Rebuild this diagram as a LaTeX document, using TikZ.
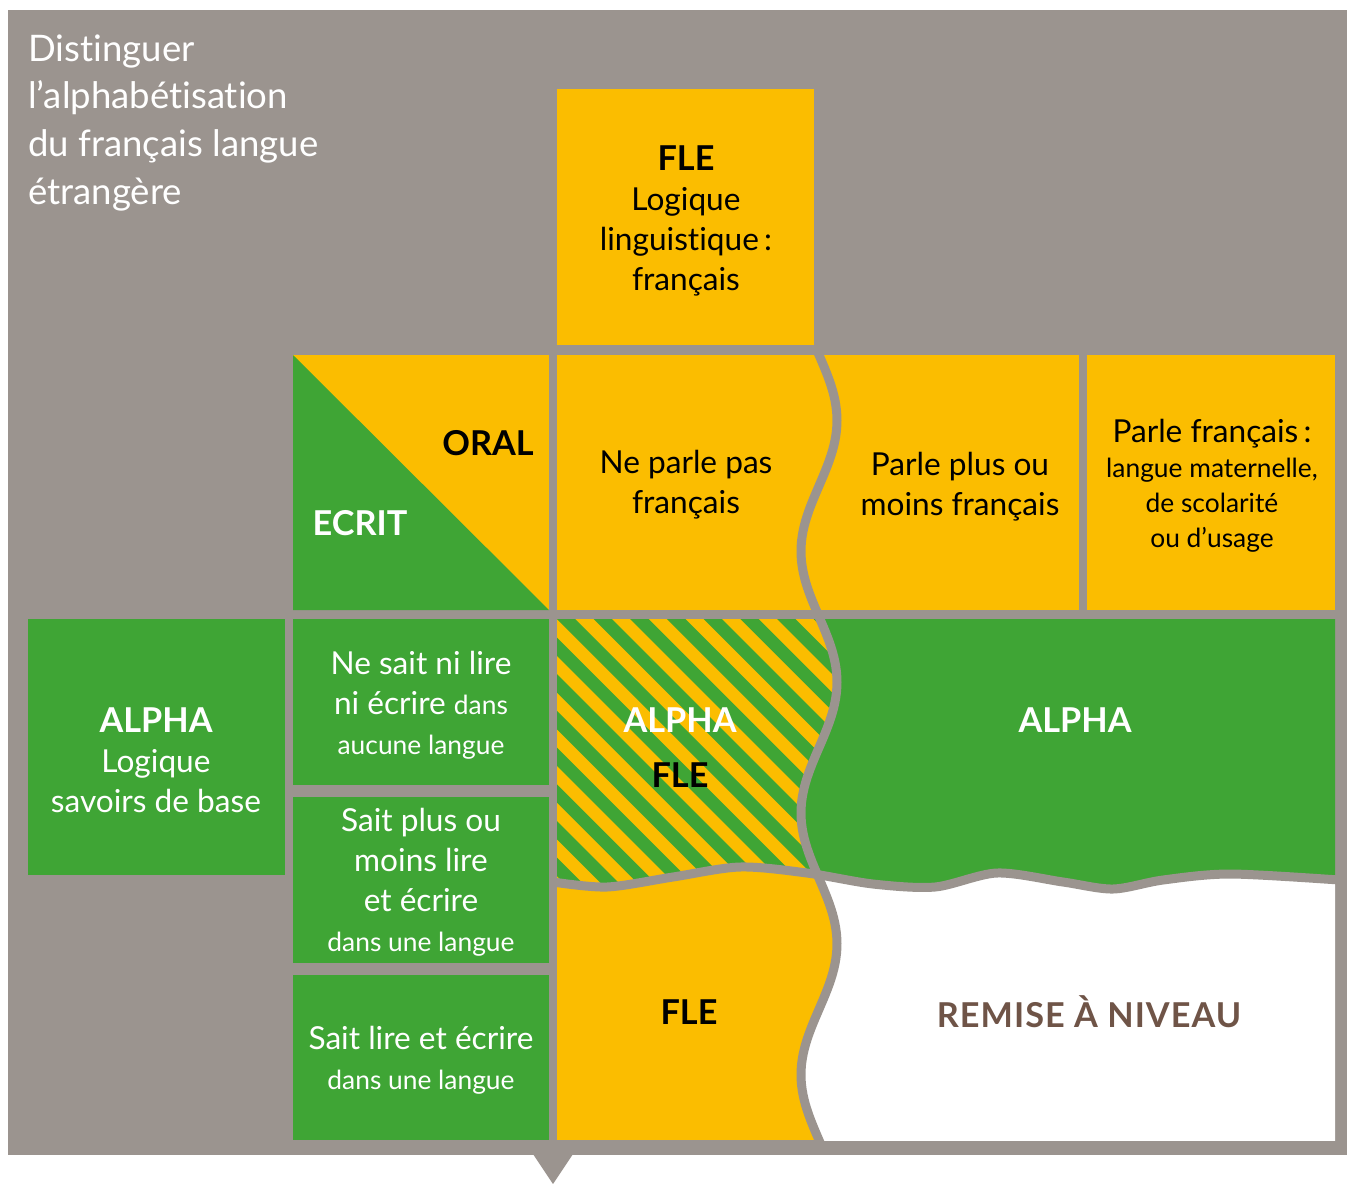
\documentclass[tikz,border=0pt]{standalone}
\usepackage{fontspec}
\setmainfont{Lato}[Ligatures={TeX,NoCommon}]
\usetikzlibrary{positioning}

\definecolor{fondgris}{HTML}{9B948F}
\definecolor{jaune}{HTML}{FBBD00}
\definecolor{vert}{HTML}{3FA535}
\definecolor{brun}{HTML}{6F5447}

% the two wavy borders (x in px, y grows downwards)
\tikzset{
  vagueV/.style 2 args={insert path={plot[domain=#1:#2, samples=160, variable=\t]
      ({819+18*sin((\t-355)*1.3756)}, \t)}},
  vagueH/.style={insert path={plot[smooth] coordinates {(553,882) (607,887) (673,877)
      (740,867) (807,873) (873,884) (935,887) (997,873) (1063,882) (1113,889)
      (1163,880) (1230,874) (1339,880)}}}
}
\newcommand{\gras}{\fontsize{19.5}{22.7}\selectfont\bfseries}

\begin{document}
\begin{tikzpicture}[x=0.02cm, y=-0.02cm]
\tikzstyle{txt}=[align=center, inner sep=0pt, font=\fontsize{18}{22.7}\selectfont]
\tikzstyle{petit}=[align=center, inner sep=0pt, font=\fontsize{15}{20}\selectfont]
\tikzstyle{titre}=[inner sep=0pt, font=\gras]
\tikzstyle{bord}=[draw=fondgris, line width=0.18cm]
\useasboundingbox (0,0) rectangle (1347,1184);
\fill[white] (0,0) rectangle (1347,1184);

% grey background and pointer
\fill[fondgris] (8,10) rectangle (1347,1155);
\fill[fondgris] (533,1154) -- (573,1154) -- (553,1184) -- cycle;

% plain cells
\fill[jaune] (557,89) rectangle (814,345);
\fill[jaune] (293,355) rectangle (549,610);
\fill[vert] (293,355) -- (549,610) -- (293,610) -- cycle;
\fill[jaune] (557,355) rectangle (1079,610);
\fill[jaune] (1087,355) rectangle (1335,610);
\fill[vert] (28,619) rectangle (285,875);
\fill[vert] (293,619) rectangle (549,785);
\fill[vert] (293,797) rectangle (549,963);
\fill[vert] (293,975) rectangle (549,1140);

% big block split by the waves
\fill[jaune] (557,619) rectangle (1335,1140);
\begin{scope}
  \clip (557,619) rectangle (1335,1140);
  \clip[vagueH] -- (1340,600) -- (540,600) -- cycle;
  \begin{scope}
    \clip[vagueV={600}{1150}] -- (540,1150) -- (540,600) -- cycle;
    \foreach \k in {0,...,20}
      \draw[vert, line width=0.26cm] ({253.4+36.7*\k},600) -- ++(600,600);
  \end{scope}
  \clip[vagueV={600}{1150}] -- (1340,1150) -- (1340,600) -- cycle;
  \fill[vert] (557,600) rectangle (1340,1150);
\end{scope}
\begin{scope}
  \clip (557,619) rectangle (1335,1140);
  \clip[vagueH] -- (1340,1150) -- (540,1150) -- cycle;
  \clip[vagueV={600}{1150}] -- (1340,1150) -- (1340,600) -- cycle;
  \fill[white] (557,600) rectangle (1340,1150);
\end{scope}
\draw[bord, vagueH];
\draw[bord, vagueV={345}{1145}];

% texts
\node[anchor=north west, align=left, inner sep=0pt, text=white,
  font=\fontsize{20.8}{27.2}\selectfont] (intro) at (28,34)
  {Distinguer\\l’alphabétisation\\du français langue\\étrangère};
\node[txt] (fle1) at (686,221) {{\gras FLE}\\Logique\\linguistique\,:\\français};
\node[titre] (oral) at (488,443) {ORAL};
\node[titre, text=white] (ecrit) at (360,523) {ECRIT};
\node[txt] (neparle) at (686,485) {Ne parle pas\\français};
\node[txt] (parleplus) at (960,487) {Parle plus ou\\moins français};
\node[petit] (parle) at (1212,486)
  {{\fontsize{18}{20}\selectfont Parle français\,:}\\langue maternelle,\\de scolarité\\ou d’usage};
\node[txt, text=white] (alpha1) at (156,760) {{\gras ALPHA}\\Logique\\savoirs de base};
\node[txt, text=white] (nesait) at (421,705)
  {Ne sait ni lire\\ni écrire {\fontsize{15}{20}\selectfont dans}\\{\fontsize{15}{20}\selectfont aucune langue}};
\node[txt, text=white] (saitplus) at (421,882)
  {Sait plus ou\\moins lire\\et écrire\\{\fontsize{15}{20}\selectfont dans une langue}};
\node[txt, text=white] (sait) at (421,1060)
  {Sait lire et écrire\\{\fontsize{15}{20}\selectfont dans une langue}};
\node[titre, text=white] (alpha2) at (680,720) {ALPHA};
\node[titre] (fle2) at (680,775) {FLE};
\node[titre, text=white] (alpha3) at (1075,720) {ALPHA};
\node[titre] (fle3) at (689,1012) {FLE};
\node[titre, text=brun, font=\gras\addfontfeature{LetterSpace=3}] (remise) at (1089,1012)
  {REMISE À NIVEAU};
\end{tikzpicture}
\end{document}
